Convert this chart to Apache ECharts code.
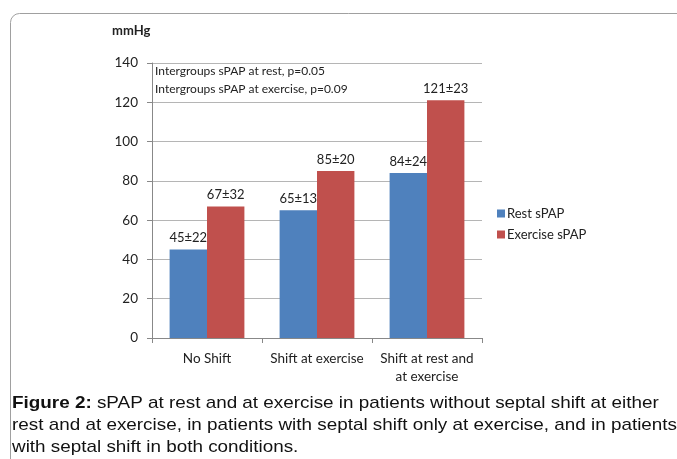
<!DOCTYPE html>
<html><head><meta charset="utf-8">
<script src="https://cdn.jsdelivr.net/npm/echarts@6/dist/echarts.min.js"></script>
<style>html,body{margin:0;padding:0;background:#fff}#c{width:677px;height:459px}</style>
</head><body><div id="c"></div>
<script>
const categories = ['No Shift', 'Shift at exercise', 'Shift at rest and\nat exercise'];
const restValues = [45, 65, 84];
const exerciseValues = [67, 85, 121];
const restLabels = ['45±22', '65±13', '84±24'];
const exerciseLabels = ['67±32', '85±20', '121±23'];
const yTicks = [0, 20, 40, 60, 80, 100, 120, 140];
const annotations = ['Intergroups sPAP at rest, p=0.05', 'Intergroups sPAP at exercise, p=0.09'];
const captionLines = [
  ['Figure 2:', ' sPAP at rest and at exercise in patients without septal shift at either'],
  ['', 'rest and at exercise, in patients with septal shift only at exercise, and in patients'],
  ['', 'with septal shift in both conditions.']
];

const chart = echarts.init(document.getElementById('c'));
const font = 'Lato, "Open Sans", sans-serif';
const capFont = '"Liberation Sans", Arial, sans-serif';
chart.setOption({
  animation: false,
  textStyle: { fontFamily: font },
  grid: { left: 152, right: 195, top: 63, bottom: 121 },
  legend: {
    orient: 'vertical', left: 492, top: 202, itemWidth: 8, itemHeight: 8, itemGap: 8,
    icon: 'rect', textStyle: { fontFamily: font, fontSize: 13, color: '#222', padding: [0, 0, 0, -3] },
    data: ['Rest sPAP', 'Exercise sPAP']
  },
  xAxis: {
    type: 'category', data: categories,
    axisLine: { lineStyle: { color: '#888' } },
    axisTick: { show: true, length: 5, lineStyle: { color: '#888' } },
    axisLabel: { interval: 0, fontSize: 13.5, color: '#222', margin: 12, lineHeight: 18, fontFamily: font }
  },
  yAxis: {
    type: 'value', min: yTicks[0], max: yTicks[yTicks.length - 1], interval: 20,
    axisLine: { show: true, lineStyle: { color: '#888' } },
    axisTick: { show: true, length: 5, inside: false, lineStyle: { color: '#888' } },
    axisLabel: { fontSize: 13.5, color: '#222', margin: 14 },
    splitLine: { lineStyle: { color: '#b5b5b5' } }
  },
  series: [
    {
      name: 'Rest sPAP', type: 'bar', data: restValues, barGap: '0%', barCategoryGap: '32%',
      itemStyle: { color: '#4f81bd' },
      label: { show: true, position: 'top', distance: 5, fontSize: 13, color: '#222', fontFamily: font,
        formatter: p => restLabels[p.dataIndex] }
    },
    {
      name: 'Exercise sPAP', type: 'bar', data: exerciseValues,
      itemStyle: { color: '#c0504d' },
      label: { show: true, position: 'top', distance: 5, fontSize: 13, color: '#222', fontFamily: font,
        formatter: p => exerciseLabels[p.dataIndex] }
    }
  ],
  graphic: [
    { type: 'rect', shape: { x: 10.5, y: 13.5, width: 720, height: 500, r: 9 },
      style: { fill: 'none', stroke: '#a0a0a0', lineWidth: 1 }, z: -1 },
    { type: 'text', left: 112, top: 24, style: { text: 'mmHg', font: 'bold 13px ' + font, fill: '#222' } },
    { type: 'text', left: 155, top: 62, style: { text: annotations.join('\n'), lineHeight: 18,
      font: '12px ' + font, fill: '#222' } },
    ...captionLines.map((ln, i) => ({
      type: 'text', x: 12, y: 395 + i * 22, scaleX: 1.11,
      style: {
        text: (ln[0] ? '{b|' + ln[0] + '}' : '') + '{n|' + ln[1] + '}',
        rich: {
          b: { fontFamily: capFont, fontSize: 17, fontWeight: 'bold', fill: '#111' },
          n: { fontFamily: capFont, fontSize: 17, fill: '#111' }
        }
      }
    }))
  ]
});
</script></body></html>
